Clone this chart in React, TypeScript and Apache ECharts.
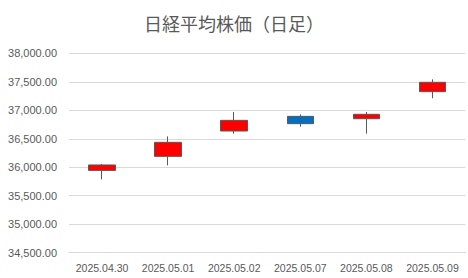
import React, { useEffect, useRef } from "react";
import * as echarts from "echarts";

const categories = ["2025.04.30", "2025.05.01", "2025.05.02", "2025.05.07", "2025.05.08", "2025.05.09"];
// [open, close, low, high]
const opens = [35945, 36191, 36636, 36893, 36852, 37327];
const closes = [36040, 36437, 36823, 36765, 36929, 37491];
const lows = [35787, 36033, 36589, 36712, 36589, 37210];
const highs = [36056, 36542, 36970, 36929, 36970, 37543];

const yMin = 34500;
const yMax = 38000;
const yInterval = 500;

export default function App() {
  const ref = useRef<HTMLDivElement>(null);
  useEffect(() => {
    if (!ref.current) return;
    const chart = echarts.init(ref.current, null, { renderer: "svg" });
    const data = categories.map((_, i) => [opens[i], closes[i], lows[i], highs[i]]);
    chart.setOption({
      animation: false,
      title: {
        text: "日経平均株価（日足）",
        left: "center",
        top: 9,
        textStyle: {
          fontFamily: "Noto Sans CJK JP",
          fontSize: 18,
          fontWeight: "normal",
          color: "#595959",
        },
      },
      grid: { left: 69, right: 2.5, top: 53.3, bottom: 25.3 },
      xAxis: {
        type: "category",
        data: categories,
        axisLine: { show: true, lineStyle: { color: "#d9d9d9" } },
        axisTick: { show: false },
        axisLabel: {
          interval: 0,
          hideOverlap: false,
          color: "#595959",
          fontSize: 10.5,
          fontFamily: "Liberation Sans",
          margin: 10,
        },
        splitLine: { show: false },
      },
      yAxis: {
        type: "value",
        min: yMin,
        max: yMax,
        interval: yInterval,
        axisLine: { show: false },
        axisTick: { show: false },
        axisLabel: {
          color: "#595959",
          fontSize: 11,
          fontFamily: "Liberation Sans",
          margin: 12,
          formatter: (v: number) =>
            v.toLocaleString("en-US", { minimumFractionDigits: 2, maximumFractionDigits: 2 }),
        },
        splitLine: { lineStyle: { color: "#d9d9d9" } },
      },
      series: [
        {
          type: "candlestick",
          data,
          barWidth: 27,
          itemStyle: {
            color: "#FF0000",
            color0: "#0070C0",
            borderColor: "#595959",
            borderColor0: "#595959",
            borderWidth: 1,
          },
        },
      ],
    });
    return () => chart.dispose();
  }, []);
  return (
    <div
      ref={ref}
      style={{ position: "fixed", left: 0, top: 0, width: 468, height: 278, background: "#fff" }}
    />
  );
}
